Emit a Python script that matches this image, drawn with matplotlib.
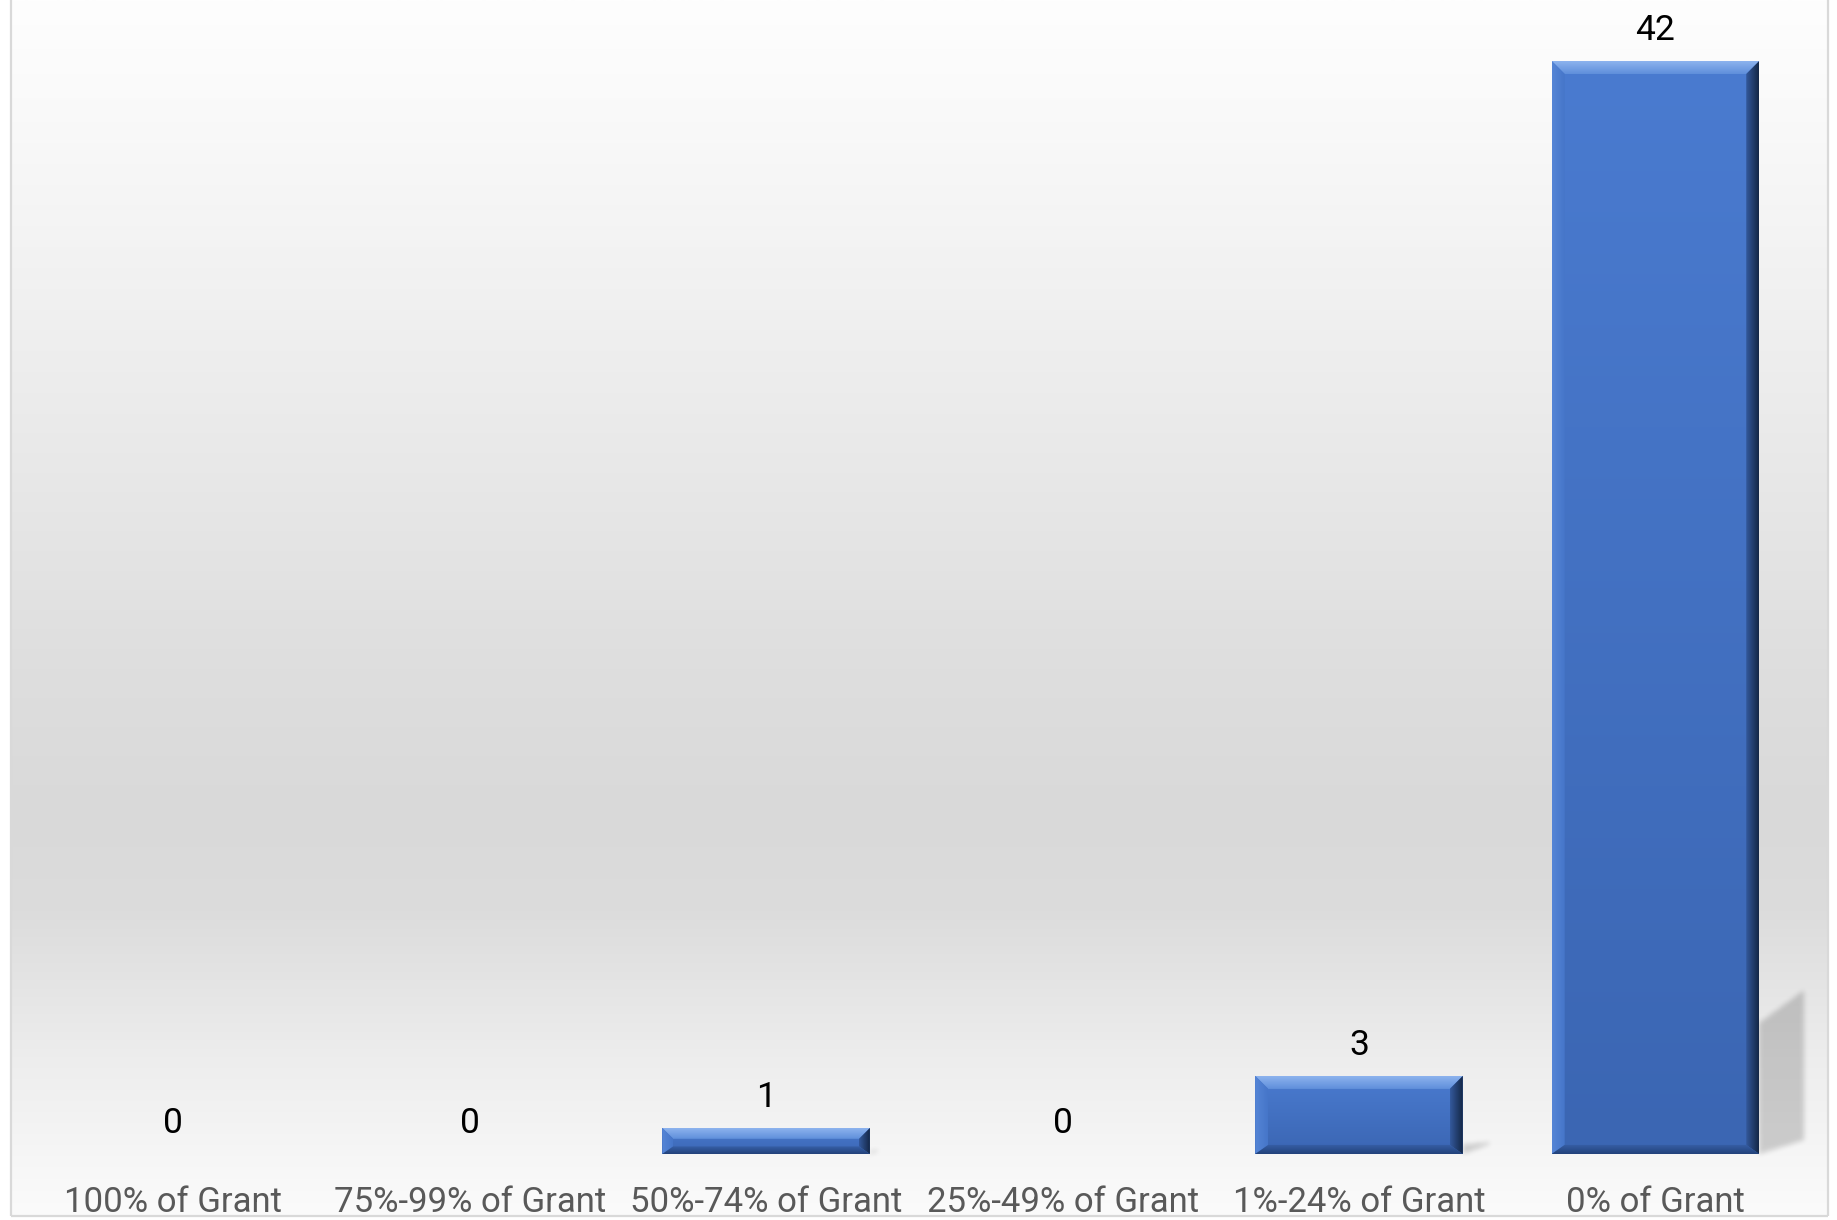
import numpy as np
import matplotlib
matplotlib.use("Agg")
import matplotlib.pyplot as plt
from matplotlib.patches import Polygon
from matplotlib.path import Path

# Survey counts by share of grant
categories = ["100% of Grant", "75%-99% of Grant", "50%-74% of Grant",
              "25%-49% of Grant", "1%-24% of Grant", "0% of Grant"]
counts = [0, 0, 1, 0, 3, 42]

W, H, DPI = 1837, 1220, 100
plt.rcParams['font.family'] = ['Roboto', 'DejaVu Sans']

fig = plt.figure(figsize=(W / DPI, H / DPI), dpi=DPI)
fig.patch.set_facecolor('white')

# ---- chart-area background: soft vertical gray gradient plus thin frame ----
bg = fig.add_axes([0, 0, 1, 1], zorder=0)
bg.set_xlim(0, W)
bg.set_ylim(H, 0)
bg.axis('off')
stops_pos = [0.0, 0.10, 0.34, 0.55, 0.67, 0.75, 0.87, 0.96, 1.0]
stops_val = [254, 249, 235, 222, 217, 220, 237, 247, 251]
yy = np.linspace(0, 1, 800)
shade = np.interp(yy, stops_pos, stops_val) / 255.0
grad = np.repeat(shade[:, None], 2, axis=1)
bg.imshow(np.dstack([grad] * 3), extent=(11, 1828, 1216, 0),
          aspect='auto', interpolation='bilinear', zorder=0)
frame_kw = dict(color='#d9d9d9', lw=1.6, solid_capstyle='butt', zorder=3)
bg.plot([11, 11], [0, 1216], **frame_kw)
bg.plot([1828, 1828], [0, 1216], **frame_kw)
bg.plot([11, 1828], [1216, 1216], **frame_kw)

# ---- plot axes ----
base_px = 1154            # baseline, pixels from top
unit_px = (1154 - 61) / 42.0
ymax = 44
left_px, right_px = 25.0, 1803.7
top_px = base_px - ymax * unit_px
ax = fig.add_axes([left_px / W, (H - base_px) / H,
                   (right_px - left_px) / W, (base_px - top_px) / H], zorder=1)
ax.patch.set_alpha(0)
ax.set_xlim(-0.5, len(categories) - 0.5)
ax.set_ylim(0, ymax)
ax.set_autoscale_on(False)
for s in ax.spines.values():
    s.set_visible(False)
ax.set_yticks([])

x = np.arange(len(categories))
bars = ax.bar(x, counts, width=0.70, color='#4472c4', zorder=3, linewidth=0)

to_disp = ax.transData.transform
to_data = ax.transData.inverted().transform


def fill_gradient(verts_px, c0, c1, direction, z=4):
    """Fill a pixel-space polygon with a linear colour gradient."""
    verts = to_data(np.asarray(verts_px, dtype=float))
    poly = Polygon(verts, closed=True, facecolor='none', edgecolor='none',
                   transform=ax.transData)
    ax.add_patch(poly)
    xs, ys = verts[:, 0], verts[:, 1]
    t = np.linspace(0, 1, 64)
    c0 = np.array(matplotlib.colors.to_rgb(c0))
    c1 = np.array(matplotlib.colors.to_rgb(c1))
    rgb = c0[None, :] * (1 - t[:, None]) + c1[None, :] * t[:, None]
    img = rgb[None, :, :] if direction == 'h' else rgb[:, None, :]
    im = ax.imshow(img, extent=(xs.min(), xs.max(), ys.min(), ys.max()),
                   origin='upper', aspect='auto', interpolation='bilinear',
                   zorder=z)
    im.set_clip_path(poly)


def box_blur(a, r, passes=3):
    k = np.ones(2 * r + 1) / (2 * r + 1)
    for _ in range(passes):
        a = np.apply_along_axis(lambda m: np.convolve(m, k, mode='same'), 0, a)
        a = np.apply_along_axis(lambda m: np.convolve(m, k, mode='same'), 1, a)
    return a


# ---- soft cast shadows behind the right side of each bar ----
shadow_mask = np.zeros((H, W))
gy, gx = np.mgrid[0:H, 0:W]
for rect, v in zip(bars, counts):
    if v <= 0:
        continue
    (R, B) = to_disp((rect.get_x() + rect.get_width(), 0))
    (_, T) = to_disp((rect.get_x() + rect.get_width(), v))
    hpx = T - B
    sw = min(45.0, 0.33 * hpx)
    pts = np.array([(R, B), (R, B + 0.12 * hpx), (R + sw, B + 0.15 * hpx),
                    (R + sw, B + min(14.0, 0.12 * hpx))])
    pts[:, 1] = H - pts[:, 1]          # to top-left pixel grid
    x_lo, x_hi = int(pts[:, 0].min()) - 2, int(pts[:, 0].max()) + 3
    y_lo, y_hi = int(pts[:, 1].min()) - 2, int(pts[:, 1].max()) + 3
    sub_x = gx[y_lo:y_hi, x_lo:x_hi].ravel() + 0.5
    sub_y = gy[y_lo:y_hi, x_lo:x_hi].ravel() + 0.5
    inside = Path(pts).contains_points(np.column_stack([sub_x, sub_y]))
    shadow_mask[y_lo:y_hi, x_lo:x_hi] = np.maximum(
        shadow_mask[y_lo:y_hi, x_lo:x_hi],
        inside.reshape(y_hi - y_lo, x_hi - x_lo))
rows = np.where(shadow_mask.any(axis=1))[0]
cols = np.where(shadow_mask.any(axis=0))[0]
if rows.size:
    pad = 12
    r0, r1 = max(rows.min() - pad, 0), min(rows.max() + pad, H)
    c0, c1 = max(cols.min() - pad, 0), min(cols.max() + pad, W)
    crop = box_blur(shadow_mask[r0:r1, c0:c1], 2)
    rgba = np.zeros(crop.shape + (4,))
    rgba[..., 3] = np.clip(crop, 0, 1) * 0.17
    bg.imshow(rgba, extent=(c0, c1, r1, r0), interpolation='bilinear',
              zorder=1)

# ---- bevelled bars ----
for rect, v in zip(bars, counts):
    if v <= 0:
        continue
    x0, x1 = rect.get_x(), rect.get_x() + rect.get_width()
    (L, B) = to_disp((x0, 0))
    (R, T) = to_disp((x1, v))
    hpx = T - B
    b = min(13.0, hpx / 2.4)        # top / side bevel width
    bb = 0.7 * b                     # lower bevel is a little narrower

    body = [(L, B), (L, T), (R, T), (R, B)]
    fill_gradient(body, '#4a7bd0', '#3b66b3', 'v', z=4)

    top = [(L, T), (R, T), (R - b, T - b), (L + b, T - b)]
    fill_gradient(top, '#8db3ee', '#5f8fdb', 'v', z=5)
    leftf = [(L, T), (L + b, T - b), (L + b, B + bb), (L, B)]
    fill_gradient(leftf, '#5585d6', '#4676c9', 'h', z=5)
    rightf = [(R - b, T - b), (R, T), (R, B), (R - b, B + bb)]
    fill_gradient(rightf, '#34599c', '#142746', 'h', z=5)
    bottom = [(L + b, B + bb), (R - b, B + bb), (R, B), (L, B)]
    fill_gradient(bottom, '#3760a8', '#23427a', 'v', z=5)

# ---- value labels ----
for xi, v in zip(x, counts):
    ax.annotate(str(v), (xi, v), xytext=(0, 15), textcoords='offset points',
                ha='center', va='baseline', fontsize=25.5, color='#000000',
                zorder=6)

ax.set_xticks(x)
ax.set_xticklabels(categories, fontsize=25, color='#595959')
ax.tick_params(axis='x', length=0, pad=41.5)
for lbl in ax.get_xticklabels():
    lbl.set_verticalalignment('baseline')

fig.savefig('out.png', dpi=DPI, facecolor='white')
